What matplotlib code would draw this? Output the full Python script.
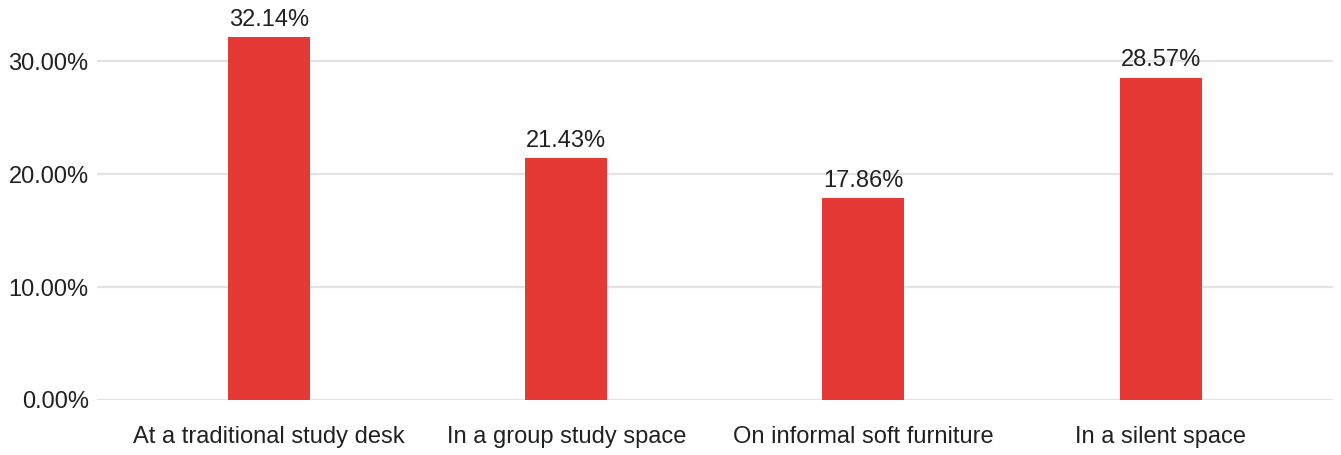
import matplotlib.pyplot as plt
import numpy as np

# %% Data
categories = ['At a traditional study desk', 'In a group study space',
              'On informal soft furniture', 'In a silent space']
shares     = [32.14, 21.43, 17.86, 28.57]
y_ticks    = [0, 10, 20, 30]

# %% Style
plt.rcParams['font.family'] = ['Liberation Sans', 'DejaVu Sans']
BAR_COLOR  = '#e53935'
TEXT_COLOR = '#212121'
GRID_COLOR = '#e3e3e3'
FS         = 17

fig = plt.figure(figsize=(13.41, 4.55), dpi=100)
ax  = fig.add_axes([97 / 1341, (455 - 400) / 455, (1333 - 97) / 1341, 395 / 455])

x = np.arange(len(categories))
bars = ax.bar(x, shares, width=0.276, color=BAR_COLOR, zorder=3)

for rect, v in zip(bars, shares):
    ax.annotate(f'{v:.2f}%', (rect.get_x() + rect.get_width() / 2, v),
                xytext=(0, 4.5), textcoords='offset points',
                ha='center', va='bottom', fontsize=FS, color=TEXT_COLOR)

ax.set_xlim(-0.579, 3.58)
ax.set_ylim(0, 35)
ax.set_yticks(y_ticks)
ax.set_yticklabels([f'{t:.2f}%' for t in y_ticks])
ax.set_xticks(x)
ax.set_xticklabels(categories)
ax.tick_params(axis='both', length=0, labelsize=FS, colors=TEXT_COLOR)
ax.tick_params(axis='y', pad=6)
ax.tick_params(axis='x', pad=18.5)
ax.grid(axis='y', color=GRID_COLOR, linewidth=1.6, zorder=0)
for s in ax.spines.values():
    s.set_visible(False)

fig.savefig('out.png', dpi=100)
